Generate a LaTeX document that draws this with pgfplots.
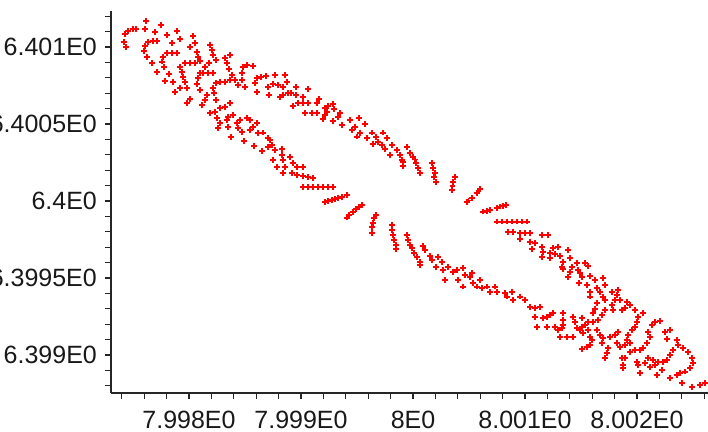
\documentclass[border=0pt]{standalone}
\usepackage{fontspec}
\setmainfont{Liberation Sans}
\usepackage{pgfplots}
\pgfplotsset{compat=1.18}
% x = 8 + X*1e-4 ,  y = 6.4 + Y*1e-4  (values stored as offsets X, Y)
\begin{document}
\begin{tikzpicture}
\begin{axis}[
  scale only axis,
  width=598.75pt, height=382.07pt,
  xmin=-26.96, xmax=26.5,
  ymin=-12.47, ymax=12.34,
  axis lines*=left,
  axis line style={line width=1.6pt, black!85},
  tick align=outside,
  major tick length=6pt, minor tick length=6pt,
  tick style={line width=1.3pt, black!85},
  xtick={-20,-10,0,10,20},
  xticklabels={7.998E0,7.999E0,8E0,8.001E0,8.002E0},
  minor xtick={-26,-24,...,26},
  ytick={-10,-5,0,5,10},
  yticklabels={6.399E0,6.3995E0,6.4E0,6.4005E0,6.401E0},
  minor ytick={-12,-11,...,12},
  ticklabel style={font=\fontsize{25}{30}\selectfont, inner sep=0pt, text=black!90},
  xticklabel style={anchor=north, yshift=-12pt},
  yticklabel style={anchor=east, xshift=-8pt},
  clip=false,
]
\addplot[only marks, mark=+, mark size=2.9pt, color=red, mark options={solid, draw=red, line width=1.9pt}] table {
X Y
-25.71 10.84
-25.42 11.06
-25.03 11.17
-24.73 11.17
-25.80 10.34
-25.63 9.98
-23.84 11.71
-22.53 11.43
-23.93 11.17
-23.04 10.99
-21.94 10.78
-21.04 11.06
-21.54 10.24
-20.80 10.50
-23.63 10.34
-23.24 10.41
-22.83 10.41
-23.93 10.06
-24.02 9.76
-23.72 9.37
-23.33 8.94
-22.83 8.40
-19.62 10.71
-19.46 10.24
-19.26 9.69
-19.91 9.98
-22.29 9.37
-21.94 9.59
-21.54 9.63
-21.10 9.59
-22.44 9.05
-22.23 8.72
-21.76 8.25
-22.14 7.81
-21.46 7.75
-20.80 8.72
-20.36 8.94
-19.91 8.94
-19.46 8.98
-20.65 8.40
-20.56 8.07
-20.36 7.75
-21.25 7.10
-20.80 7.32
-20.15 7.32
-19.91 6.60
-20.15 6.38
-19.17 9.37
-19.02 9.09
-18.13 10.13
-17.97 9.81
-17.83 9.48
-17.59 9.16
-18.19 8.94
-18.57 8.72
-19.02 8.29
-18.72 8.33
-18.28 8.33
-17.83 8.33
-19.17 7.97
-19.26 7.60
-19.02 7.21
-18.42 6.88
-18.87 6.23
-18.57 6.56
-16.79 9.27
-16.34 9.48
-16.63 8.94
-16.40 8.55
-16.19 8.18
-15.89 7.86
-15.60 7.53
-17.59 7.64
-17.23 7.75
-16.79 7.75
-16.34 7.86
-17.83 7.32
-17.77 6.99
-17.59 6.56
-17.23 6.02
-16.79 6.12
-16.34 6.34
-15.15 8.72
-14.79 8.83
-14.31 8.77
-15.29 8.29
-15.29 7.86
-15.00 7.42
-13.96 7.97
-13.60 8.07
-13.13 8.12
-12.32 8.18
-14.11 7.64
-13.96 7.10
-12.92 7.42
-12.47 7.60
-12.03 7.53
-11.58 7.42
-12.83 6.88
-11.43 8.18
-11.28 7.75
-11.88 6.73
-11.58 6.88
-11.13 6.99
-18.13 5.69
-17.68 5.80
-17.53 5.37
-17.23 5.05
-16.63 5.26
-16.49 5.47
-16.04 5.58
-15.74 5.05
-15.45 5.26
-14.85 5.37
-14.55 5.26
-15.60 4.72
-15.29 4.50
-17.38 4.72
-16.49 4.82
-14.55 4.61
-14.26 4.82
-13.96 5.05
-13.81 4.40
-13.37 4.44
-12.92 4.07
-16.25 4.16
-15.09 3.90
-14.20 3.57
-13.48 3.25
-12.95 3.51
-12.14 2.21
-12.77 3.96
-12.62 3.64
-12.32 3.31
-11.72 3.36
-12.47 2.66
-11.72 2.99
-11.58 2.66
-10.98 2.88
-10.74 2.45
-11.43 2.23
-10.38 2.23
-9.79 2.19
-11.58 1.80
-10.83 1.80
-10.38 1.69
-9.79 1.62
-9.35 1.58
-8.90 1.47
-9.85 0.89
-9.35 0.89
-8.90 0.89
-8.46 0.89
-8.01 0.89
-7.56 0.89
-7.17 0.89
-7.86 -0.05
-7.56 0.00
-7.26 0.06
-6.96 0.13
-6.67 0.21
-6.37 0.28
-5.92 0.39
-5.92 -1.08
-5.69 -0.91
-5.38 -0.73
-5.09 -0.54
-4.79 -0.37
-4.58 -0.26
-3.30 -0.91
-3.48 -1.12
-3.60 -1.41
-3.69 -1.71
-3.69 -2.10
-1.90 -1.56
-1.90 -1.88
-1.81 -2.21
-1.70 -2.53
-1.52 -2.86
-1.52 -3.14
-0.56 -2.21
-0.42 -2.53
-0.27 -2.86
-0.12 -3.07
0.09 -3.40
0.33 -3.66
0.63 -3.94
0.63 -4.16
-10.45 7.38
-9.35 7.25
-10.92 6.99
-10.45 6.88
-9.79 6.77
-10.69 6.17
-10.24 6.34
-9.79 6.34
-9.35 6.34
-9.64 5.73
-9.04 5.73
-8.60 5.73
-8.60 6.34
-8.37 6.62
-7.86 6.02
-7.56 6.17
-7.71 5.80
-7.86 5.58
-8.01 5.31
-7.12 6.30
-7.05 5.95
-6.52 5.73
-6.67 5.47
-7.12 5.21
-6.37 4.94
-5.63 5.26
-4.79 5.37
-5.18 4.82
-4.29 5.00
-5.47 4.61
-4.73 4.40
-4.13 4.07
-3.69 4.44
-2.65 4.44
-3.54 3.70
-2.79 3.64
-2.35 4.07
-2.50 3.36
-1.90 3.64
-2.05 2.99
-1.46 3.31
-1.16 2.99
-0.92 2.55
-0.87 2.27
-0.51 3.53
-0.27 3.14
0.03 2.88
0.27 2.45
0.47 2.12
0.63 1.84
1.67 2.49
1.81 2.12
1.96 1.80
2.05 1.25
3.75 1.58
3.60 1.25
3.46 0.71
4.79 -0.05
5.24 0.18
5.69 0.50
5.98 0.76
6.28 -0.69
6.88 -0.58
7.47 -0.47
8.06 -0.32
-5.03 4.18
-3.30 4.14
-3.10 3.85
-1.01 2.66
0.15 2.69
1.88 1.56
3.53 0.97
4.96 0.03
5.85 0.62
6.58 -0.63
7.77 -0.36
8.30 -0.26
7.47 -1.34
7.92 -1.34
8.37 -1.34
8.81 -1.34
9.26 -1.34
9.71 -1.34
10.15 -1.34
8.51 -1.99
8.96 -1.99
9.55 -2.08
10.00 -2.08
10.45 -2.08
11.49 -2.21
12.08 -2.21
9.55 -2.49
10.45 -2.64
10.89 -2.75
11.49 -2.97
10.60 -3.14
11.63 -3.29
12.53 -3.07
12.97 -2.97
13.87 -3.18
12.23 -3.40
12.23 -3.72
11.49 -3.66
13.13 -3.57
14.02 -3.72
13.42 -3.94
14.17 -4.27
14.02 -4.59
13.28 -4.27
13.87 -4.92
12.68 -3.44
13.42 -4.44
14.62 -4.05
14.76 -4.48
15.36 -4.01
15.65 -4.22
14.91 -4.69
15.06 -4.92
15.80 -4.87
15.51 -5.45
16.25 -5.13
16.99 -5.02
16.40 -5.67
17.14 -5.45
15.80 -5.89
16.70 -5.89
17.74 -5.89
18.48 -6.43
15.80 -6.21
16.99 -6.21
16.40 -6.64
17.14 -6.43
19.08 -6.54
19.38 -6.75
19.82 -7.08
14.82 -5.34
16.25 -7.03
16.10 -7.29
18.33 -5.78
18.19 -6.10
18.04 -6.43
17.74 -6.75
17.14 -7.08
16.85 -7.40
16.54 -7.73
16.10 -7.84
15.65 -7.84
15.36 -8.05
15.06 -8.16
18.93 -6.97
18.63 -7.08
17.88 -7.08
20.56 -7.25
20.12 -7.51
19.97 -7.84
19.82 -8.16
19.53 -8.38
19.22 -8.70
19.08 -9.03
19.38 -9.24
18.93 -9.35
21.61 -7.84
22.05 -7.77
21.31 -8.05
21.01 -8.49
21.16 -8.85
20.87 -9.24
20.56 -9.56
20.27 -9.68
19.82 -9.68
19.38 -9.79
22.95 -8.38
22.50 -8.49
22.65 -8.98
23.54 -9.03
23.69 -9.35
23.24 -9.68
22.95 -10.00
22.65 -10.32
22.35 -10.44
21.90 -10.44
24.13 -9.56
24.58 -9.79
24.88 -10.21
25.03 -10.54
24.73 -10.86
24.29 -11.08
23.84 -11.19
23.54 -11.30
23.99 -11.84
24.88 -12.06
25.63 -11.95
26.07 -11.84
10.45 -6.86
10.89 -6.97
11.34 -6.86
10.89 -7.51
11.04 -8.16
11.63 -7.62
11.94 -7.51
12.23 -7.40
12.53 -7.29
11.94 -8.16
12.68 -8.16
13.42 -7.29
13.42 -7.73
13.42 -8.05
13.28 -8.27
12.97 -8.38
13.13 -8.85
13.72 -8.85
14.31 -8.81
14.31 -7.51
14.46 -7.84
14.62 -8.27
15.06 -7.62
14.91 -8.38
15.21 -8.59
15.65 -8.38
15.80 -8.81
15.96 -9.03
15.80 -9.35
15.06 -9.63
15.51 -9.46
16.40 -8.38
16.70 -8.70
16.99 -8.92
16.85 -9.24
17.44 -9.56
17.29 -9.89
17.14 -10.21
17.59 -8.81
18.04 -8.70
18.33 -8.49
18.19 -9.24
18.48 -9.46
18.63 -10.21
18.93 -10.21
18.78 -10.65
18.78 -10.86
19.97 -10.44
20.12 -10.65
20.27 -11.19
20.71 -10.54
21.01 -10.21
21.16 -10.76
21.46 -10.32
21.61 -10.65
21.76 -11.30
22.21 -10.97
22.95 -11.51
0.92 -2.92
1.07 -3.18
1.52 -3.57
1.67 -3.83
2.05 -4.31
2.26 -3.62
2.56 -3.94
2.71 -4.48
2.86 -5.13
3.15 -4.27
3.60 -4.59
3.90 -4.48
4.04 -5.13
4.49 -4.37
4.64 -4.81
4.49 -5.56
5.24 -4.69
5.38 -5.34
5.98 -5.13
6.13 -5.67
6.58 -5.56
6.88 -5.89
7.32 -5.56
7.47 -5.89
8.21 -5.99
8.81 -5.89
9.55 -6.21
5.09 -4.92
5.69 -5.56
8.37 -6.21
8.96 -6.43
10.00 -6.43
};
\coordinate (BL) at (axis cs:-36.875,-15.0);
\coordinate (TR) at (axis cs:26.34,13.05);
\end{axis}
\pgfresetboundingbox
\path[use as bounding box] (BL) rectangle (TR);
\end{tikzpicture}
\end{document}
